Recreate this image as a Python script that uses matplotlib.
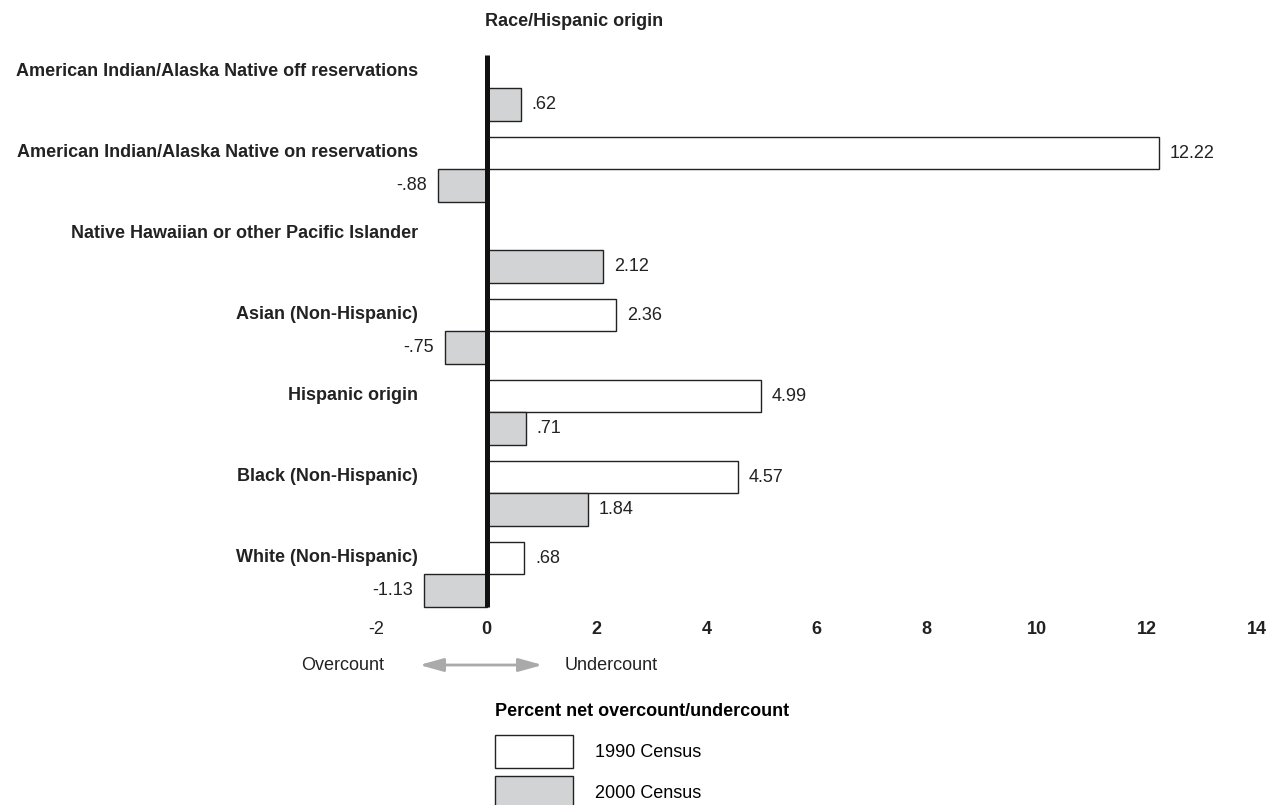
import numpy as np
import matplotlib.pyplot as plt

plt.rcParams['font.family'] = ['Liberation Sans', 'DejaVu Sans']

# data
groups = ['American Indian/Alaska Native off reservations',
          'American Indian/Alaska Native on reservations',
          'Native Hawaiian or other Pacific Islander',
          'Asian (Non-Hispanic)',
          'Hispanic origin',
          'Black (Non-Hispanic)',
          'White (Non-Hispanic)']
census_1990 = np.array([np.nan, 12.22, np.nan, 2.36, 4.99, 4.57, 0.68])
census_2000 = np.array([0.62, -0.88, 2.12, -0.75, 0.71, 1.84, -1.13])
xticks = [-2, 0, 2, 4, 6, 8, 10, 12, 14]

W, H = 1269, 805
x0, xs = 486.5, 55.0  # pixel of x=0, pixels per unit
y0, ys = 72, 81       # pixel of first group, pixels per group
bh = 0.4
fs = 13
ink = '#222222'

fig = plt.figure(figsize=(W / 100, H / 100), dpi=100)
ax = fig.add_axes([0, 0, 1, 1])
ax.set_xlim(-x0 / xs, (W - x0) / xs)
ax.set_ylim((H - y0) / ys, -y0 / ys)

pos = np.arange(len(groups))


def fmt(v):
    s = f'{abs(v):.2f}'
    if s.startswith('0'):
        s = s[1:]
    return ('-' if v < 0 else '') + s


m = ~np.isnan(census_1990)
ax.barh(pos[m], census_1990[m], height=bh, color='white', edgecolor=ink,
        lw=1.0, label='1990 Census')
ax.barh(pos + bh, census_2000, height=bh, color='#d1d3d4', edgecolor=ink,
        lw=1.0, label='2000 Census')

for series, off in [(census_1990, 0), (census_2000, bh)]:
    for p, v in zip(pos, series):
        if np.isnan(v):
            continue
        ax.annotate(fmt(v), (v, p + off), xytext=(8 if v > 0 else -8, 0),
                    textcoords='offset points', ha='left' if v > 0 else 'right',
                    va='center', fontsize=fs, color=ink)

for p, g in zip(pos, groups):
    ax.text(-1.24, p - 0.01, g, ha='right', va='center', fontsize=fs,
            fontweight='bold', color=ink)

# zero line
ax.vlines(0, (55 - y0) / ys, 6 + 1.5 * bh, color='#111111', lw=3.6, zorder=4)

# x axis
for s in ['top', 'left', 'right']:
    ax.spines[s].set_visible(False)
ax.spines['bottom'].set_position(('data', 6 + 1.5 * bh))
ax.spines['bottom'].set_visible(False)
ax.set_xticks(xticks)
ax.set_xticklabels([str(t) for t in xticks], fontsize=fs, fontweight='bold',
                   color=ink)
ax.get_xticklabels()[0].set_fontweight('normal')
ax.tick_params(axis='x', length=0, pad=10.5)
ax.set_yticks([])

ax.text(-0.03, (21 - y0) / ys, 'Race/Hispanic origin', ha='left', va='center',
        fontsize=fs, fontweight='bold', color=ink)

# over/under arrow
ya = (665 - y0) / ys
ax.annotate('', xy=(1.07, ya), xytext=(-1.27, ya),
            arrowprops=dict(arrowstyle='<|-|>,head_length=0.9,head_width=0.25',
                            color='#aaaaaa', lw=2, mutation_scale=16))
ax.text((343 - x0) / xs, ya, 'Overcount', ha='center', va='center',
        fontsize=fs, color=ink)
ax.text((565 - x0) / xs, ya, 'Undercount', ha='left', va='center',
        fontsize=fs, color=ink)

leg = ax.legend(loc='upper left', bbox_to_anchor=(495 / W, 1 - 703 / H),
                frameon=False, fontsize=fs, handlelength=4.32,
                handleheight=2.44, labelspacing=0.44, handletextpad=1.22,
                borderpad=0, borderaxespad=0,
                title='Percent net overcount/undercount',
                title_fontproperties={'weight': 'bold', 'size': fs},
                alignment='left')
leg._legend_box.sep = 11

fig.savefig('out.png', dpi=100)
